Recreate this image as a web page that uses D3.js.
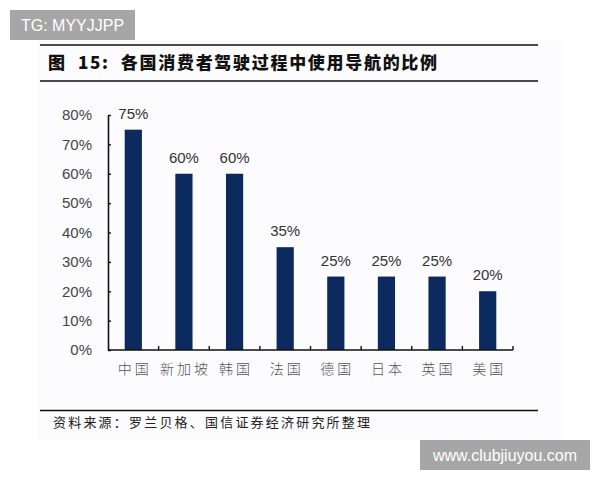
<!DOCTYPE html>
<html>
<head>
<meta charset="utf-8">
<script src="https://cdn.jsdelivr.net/npm/d3@7"></script>
<style>
  html, body { margin: 0; padding: 0; background: #ffffff; }
  svg { display: block; }
</style>
</head>
<body>
<svg id="chart" width="600" height="480"></svg>
<script>
const categories = ["中国", "新加坡", "韩国", "法国", "德国", "日本", "英国", "美国"];
const values = [0.75, 0.60, 0.60, 0.35, 0.25, 0.25, 0.25, 0.20];
const yTicks = [0, 0.1, 0.2, 0.3, 0.4, 0.5, 0.6, 0.7, 0.8];
const titleText = "图  15:  各国消费者驾驶过程中使用导航的比例";
const sourceText = "资料来源：罗兰贝格、国信证券经济研究所整理";
const watermarkTop = "TG: MYYJJPP";
const watermarkBottom = "www.clubjiuyou.com";

const svg = d3.select("#chart");
const numFont = "'Liberation Sans', Arial, sans-serif";
const cjkFont = "'Noto Sans CJK SC', sans-serif";

// image background
svg.append("rect").attr("x", 37).attr("y", 40).attr("width", 525).attr("height", 400)
  .attr("fill", "#fcfbfd");

// title rules
svg.append("line").attr("x1", 40).attr("x2", 538).attr("y1", 45).attr("y2", 45)
  .attr("stroke", "#111").attr("stroke-width", 1.6);
svg.append("line").attr("x1", 40).attr("x2", 538).attr("y1", 81).attr("y2", 81)
  .attr("stroke", "#111").attr("stroke-width", 1.6);
svg.append("text").attr("x", 48).attr("y", 68.5)
  .attr("font-family", cjkFont).attr("font-weight", 900).attr("font-size", 17)
  .attr("fill", "#111").style("white-space", "pre")
  .style("letter-spacing", "1.7px")
  .text(titleText);

// chart
const x = d3.scaleBand().domain(categories).range([108, 513]).paddingInner(0.66).paddingOuter(0.33);
const y = d3.scaleLinear().domain([0, 0.8]).range([350, 115]);

const g = svg.append("g");
g.selectAll("rect.bar").data(values).join("rect").attr("class", "bar")
  .attr("x", (d, i) => x(categories[i]))
  .attr("y", d => y(d))
  .attr("width", x.bandwidth())
  .attr("height", d => y(0) - y(d))
  .attr("fill", "#0c2a5e");

g.selectAll("text.val").data(values).join("text").attr("class", "val")
  .attr("x", (d, i) => x(categories[i]) + x.bandwidth() / 2)
  .attr("y", d => y(d) - 11)
  .attr("text-anchor", "middle")
  .attr("font-family", numFont).attr("font-size", 15).attr("fill", "#333")
  .text(d => Math.round(d * 100) + "%");

// y axis
const yAxis = d3.axisLeft(y).tickValues(yTicks).tickSizeInner(-3).tickSizeOuter(0)
  .tickPadding(16).tickFormat(d => Math.round(d * 100) + "%");
const ya = svg.append("g").attr("transform", "translate(108,0)").call(yAxis);
ya.select(".domain").attr("stroke", "#111").attr("stroke-width", 1.6);
ya.selectAll(".tick line").attr("stroke", "#111").attr("stroke-width", 1.4);
ya.selectAll(".tick text").attr("font-family", numFont).attr("font-size", 15).attr("fill", "#444");

// x axis
const xAxis = d3.axisBottom(x).tickSize(0).tickPadding(14);
const xa = svg.append("g").attr("transform", "translate(0,350)").call(xAxis);
xa.select(".domain").attr("d", "M108,0H513").attr("stroke", "#111").attr("stroke-width", 1.6);
xa.selectAll(".tick text").attr("font-family", cjkFont).attr("font-weight", 300)
  .attr("font-size", 14).attr("fill", "#555").style("letter-spacing", "3px")
  .attr("dx", "1.5px");
// category boundary ticks (inward)
const step = x.step();
const bounds = categories.map((c, i) => 108 + step * (i + 1));
xa.selectAll("line.bound").data(bounds).join("line").attr("class", "bound")
  .attr("x1", d => d).attr("x2", d => d).attr("y1", 0).attr("y2", -4)
  .attr("stroke", "#111").attr("stroke-width", 1.4);

// source
svg.append("line").attr("x1", 40).attr("x2", 538).attr("y1", 410.5).attr("y2", 410.5)
  .attr("stroke", "#111").attr("stroke-width", 1.4);
svg.append("text").attr("x", 53).attr("y", 426.5)
  .attr("font-family", cjkFont).attr("font-size", 13).attr("fill", "#222")
  .style("letter-spacing", "2.2px").style("white-space", "pre")
  .text(sourceText);

// watermarks
svg.append("rect").attr("x", 10).attr("y", 10).attr("width", 125).attr("height", 30).attr("fill", "#a6a6a6");
svg.append("text").attr("x", 72.5).attr("y", 31).attr("text-anchor", "middle")
  .attr("font-family", numFont).attr("font-size", 16).attr("fill", "#fff").text(watermarkTop);
svg.append("rect").attr("x", 420).attr("y", 440).attr("width", 170).attr("height", 30).attr("fill", "#a6a6a6");
svg.append("text").attr("x", 505).attr("y", 461).attr("text-anchor", "middle")
  .attr("font-family", numFont).attr("font-size", 16).attr("fill", "#fff").text(watermarkBottom);
</script>
</body>
</html>
